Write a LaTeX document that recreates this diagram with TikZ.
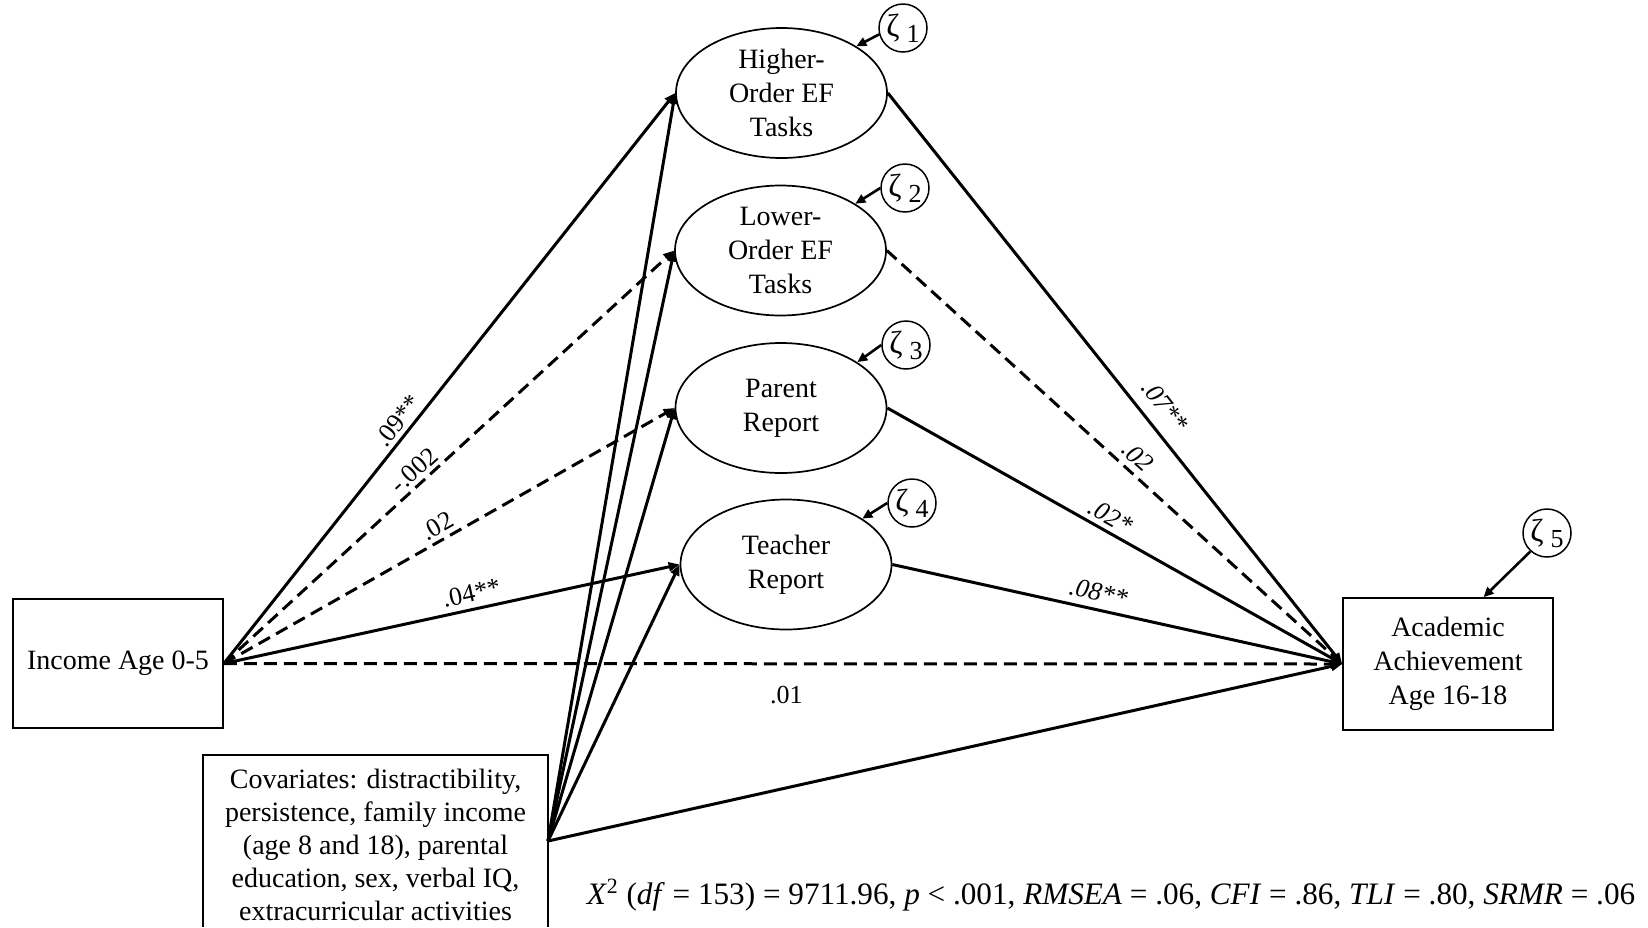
\documentclass[tikz,border=0pt]{standalone}
\usepackage{fontspec}
\setmainfont{Liberation Serif}
\usetikzlibrary{shapes.geometric,arrows.meta,calc}
\begin{document}
\begin{tikzpicture}[x=0.5pt,y=-0.5pt,
  txt/.style={font=\fontsize{14}{17}\selectfont, align=center},
  latent/.style={ellipse, draw, line width=0.85pt, minimum width=105.5pt, minimum height=65pt, inner sep=0pt},
  obs/.style={rectangle, draw, line width=0.85pt, inner sep=0pt},
  zeta/.style={circle, draw, line width=0.75pt, minimum size=24pt, inner sep=0pt, font=\fontsize{16}{16}\selectfont},
  sig/.style={line width=1.5pt, -{Triangle[length=5.5pt,width=4.5pt]}},
  ns/.style={sig, dash pattern=on 6.5pt off 3.5pt},
  zarrow/.style={line width=1.3pt, -{Triangle[length=5pt,width=4.5pt]}},
  coef/.style={font=\fontsize{13}{13}\selectfont, sloped, inner sep=1.5pt},
  coefi/.style={coef, font=\fontsize{13}{13}\selectfont\itshape},
]
\useasboundingbox (0,0) rectangle (1648,927);

% observed boxes
\node[obs, txt, minimum width=105pt, minimum height=64.5pt] (inc) at (118,663.5) {Income Age 0-5};
\node[obs, txt, minimum width=105pt, minimum height=66pt] (acad) at (1448,664) {Academic\\Achievement\\Age 16-18};

% covariates box (cut by the lower edge)
\node[txt, font=\fontsize{14}{16.5}\selectfont] (cov) at (375.5,845) {Covariates: distractibility,\\persistence, family income\\(age 8 and 18), parental\\education, sex, verbal IQ,\\extracurricular activities};
\draw[line width=0.85pt] (203,927) -- (203,755) -- (548,755) -- (548,927);
\coordinate (covout) at (548,841);

% latent variables
\node[latent, label={[txt]center:{Higher-\\Order EF\\Tasks}}] (e1) at (781.5,93) {};
\node[latent, label={[txt]center:{Lower-\\Order EF\\Tasks}}] (e2) at (780.5,250.5) {};
\node[latent, label={[txt]center:{Parent\\Report}}] (e3) at (781,408) {};
\node[latent, label={[txt]center:{Teacher\\Report}}] (e4) at (786,564.5) {};

% disturbances
\node[zeta] (z1) at (903,28) {ζ\hspace{3.5pt}\raisebox{-3pt}{\fontsize{13}{13}\selectfont 1}};
\node[zeta] (z2) at (905,188) {ζ\hspace{3.5pt}\raisebox{-3pt}{\fontsize{13}{13}\selectfont 2}};
\node[zeta] (z3) at (906,345) {ζ\hspace{3.5pt}\raisebox{-3pt}{\fontsize{13}{13}\selectfont 3}};
\node[zeta] (z4) at (912,503) {ζ\hspace{3.5pt}\raisebox{-3pt}{\fontsize{13}{13}\selectfont 4}};
\node[zeta] (z5) at (1547,533) {ζ\hspace{3.5pt}\raisebox{-3pt}{\fontsize{13}{13}\selectfont 5}};

\draw[zarrow] (z1.195) -- (e1.32);
\draw[zarrow] (z2.west) -- (e2.32);
\draw[zarrow] (z3.west) -- (e3.31);
\draw[zarrow] (z4.west) -- (e4.31);
\draw[zarrow] (z5.228) -- (acad.62);

% income paths
\draw[sig] (inc.east) -- node[coef, above=0.5pt, pos=0.41] {.09**} (e1.west);
\draw[ns]  (inc.east) -- node[coef, above=0.3pt, pos=0.443] {-.002} (e2.west);
\draw[ns]  (inc.east) -- node[coef, above=0.5pt, pos=0.489] {.02} (e3.west);
\draw[sig] (inc.east) -- node[coef, above=1.5pt, pos=0.551] {.04**} (e4.west);
\draw[ns]  (inc.east) -- node[coef, below=9pt, pos=0.503] {.01} (acad.west);

% covariate paths
\draw[sig] (covout) -- (e1.west);
\draw[sig] (covout) -- (e2.west);
\draw[sig] (covout) -- (e3.west);
\draw[sig] (covout) -- (e4.west);
\draw[sig] (covout) -- (acad.west);

% mediator paths
\draw[sig] (e1.east) -- node[coefi, above=4.5pt, pos=0.572] {.07**} (acad.west);
\draw[ns]  (e2.east) -- node[coefi, above=1.5pt, pos=0.527] {.02} (acad.west);
\draw[sig] (e3.east) -- node[coefi, above=1pt, pos=0.475] {.02*} (acad.west);
\draw[sig] (e4.east) -- node[coefi, above=2pt, pos=0.45] {.08**} (acad.west);

% fit statistics
\node[font=\fontsize{15.6}{16}\selectfont, inner sep=0pt] (fit) at (1111,895) {\textit{X}\textsuperscript{2} (\textit{df} = 153) = 9711.96, \textit{p} < .001, \textit{RMSEA} = .06, \textit{CFI} = .86, \textit{TLI} = .80, \textit{SRMR} = .06};
\end{tikzpicture}
\end{document}
